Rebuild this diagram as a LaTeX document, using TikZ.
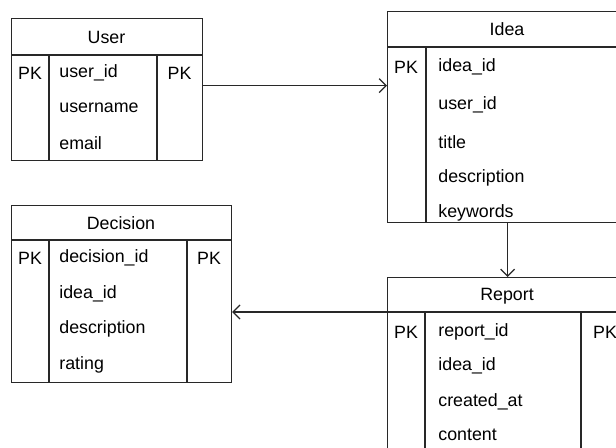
\documentclass[tikz,border=0pt]{standalone}
\usepackage{fontspec}
\setmainfont{Liberation Sans}
\usetikzlibrary{arrows.meta}
\definecolor{linecol}{RGB}{40,40,40}

\tikzset{
  tbl/.style={draw=linecol, line width=0.6pt, inner sep=0pt, anchor=north west},
  fld/.style={anchor=west, inner sep=0pt, font=\fontsize{8.9}{10}\selectfont},
  pk/.style={inner sep=0pt, font=\fontsize{8.9}{10}\selectfont},
  ttl/.style={inner sep=0pt, font=\fontsize{8.9}{10}\selectfont},
  rel/.style={draw=linecol, line width=0.6pt, -{Straight Barb[length=3.5pt,width=7pt]}}
}

\begin{document}
\begin{tikzpicture}[x=0.5pt,y=-0.5pt]
\useasboundingbox (0,0) rectangle (616,448);
\clip (0,0) rectangle (616,448);
\fill[white] (0,0) rectangle (616,448);

% User
\node[tbl, minimum width=95.5pt, minimum height=71pt] (user) at (11,18) {};
\draw[linecol, line width=0.6pt] (11,55) -- (202,55) (49,55) -- (49,160) (157,55) -- (157,160);
\node[ttl] (usert) at (106.5,37) {User};
\node[pk] (userpk) at (30,73) {PK};
\node[pk] (userpk2) at (179.5,73) {PK};
\node[fld] (userf1) at (59,73) {user\_id};
\node[fld] (userf2) at (59,108) {username};
\node[fld] (userf3) at (59,143) {email};

% Idea
\node[tbl, minimum width=120pt, minimum height=105.5pt] (idea) at (387,11) {};
\draw[linecol, line width=0.6pt] (387,47) -- (627,47) (426,47) -- (426,222);
\node[ttl] (ideat) at (507,29) {Idea};
\node[pk] (ideapk) at (406,67) {PK};
\node[fld] (ideaf1) at (438,67) {idea\_id};
\node[fld] (ideaf2) at (438,105) {user\_id};
\node[fld] (ideaf3) at (438,142) {title};
\node[fld] (ideaf4) at (438,178) {description};
\node[fld] (ideaf5) at (438,213) {keywords};

% Decision
\node[tbl, minimum width=110pt, minimum height=88.5pt] (decision) at (11,205) {};
\draw[linecol, line width=0.6pt] (11,240) -- (231,240) (49,240) -- (49,382) (187,240) -- (187,382);
\node[ttl] (decisiont) at (121,223) {Decision};
\node[pk] (decisionpk) at (30,258) {PK};
\node[pk] (decisionpk2) at (209,258) {PK};
\node[fld] (decisionf1) at (59,258) {decision\_id};
\node[fld] (decisionf2) at (59,294) {idea\_id};
\node[fld] (decisionf3) at (59,329) {description};
\node[fld] (decisionf4) at (59,365) {rating};

% Report
\node[tbl, minimum width=120pt, minimum height=100pt] (report) at (387,277) {};
\coordinate (reporthead) at (387,312);
\draw[linecol, line width=0.6pt] (387,312) -- (627,312) (425,312) -- (425,480) (581,312) -- (581,480);
\node[ttl] (reportt) at (507,296) {Report};
\node[pk] (reportpk) at (406,332) {PK};
\node[pk] (reportpk2) at (605,332) {PK};
\node[fld] (reportf1) at (438,332) {report\_id};
\node[fld] (reportf2) at (438,366) {idea\_id};
\node[fld] (reportf3) at (438,402) {created\_at};
\node[fld] (reportf4) at (438,435) {content};

% Relations
\draw[rel] ([yshift=2pt]user.east) -- ([yshift=2pt]user.east -| idea.west);
\draw[rel] (idea.south) -- (idea.south |- report.north);
\draw[rel] (reporthead) -- (reporthead -| decision.east);
\end{tikzpicture}
\end{document}
